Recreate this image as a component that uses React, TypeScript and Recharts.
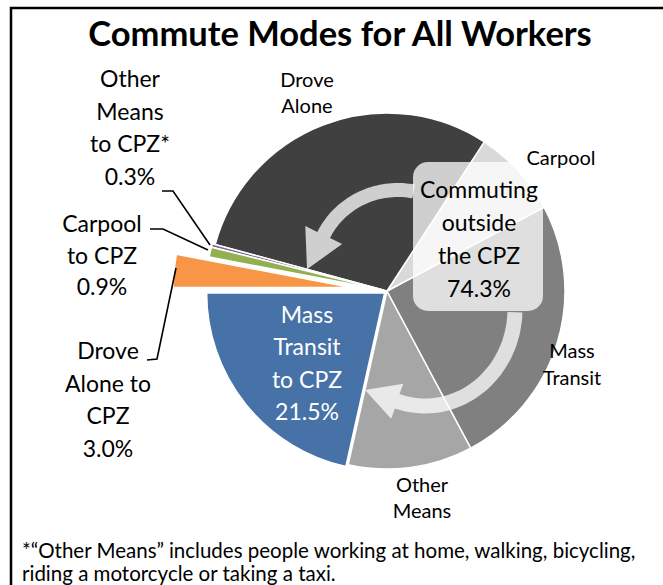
import { PieChart, Pie, Cell } from 'recharts';

// shares of all workers, in drawing order starting at 9 o'clock going counter-clockwise
const CATEGORIES = [
  'Mass Transit to CPZ',
  'Other Means',
  'Mass Transit',
  'Carpool',
  'Drove Alone',
  'Other Means to CPZ',
  'Carpool to CPZ',
  'Drove Alone to CPZ',
];
const SHARES = [21.5, 11.3, 25.0, 8.0, 30.0, 0.3, 0.9, 3.0];
const COLORS = ['#4672A8', '#A6A6A6', '#808080', '#D9D9D9', '#404040', '#8064A2', '#92B050', '#F79646'];
// how far each slice is pulled out of the pie (px)
const EXPLODE = [3, 0, 0, 0, 0, 3, 3, 36];

const OUTSIDE_TOTAL = '74.3%';

const W = 663;
const H = 585;
const CX = 387;
const CY = 291;
const R = 178;
const START = 180;
const END = 540;

const FONT = "Lato, 'Open Sans', sans-serif";

const data = CATEGORIES.map((name, i) => ({ name, value: SHARES[i] }));

const total = SHARES.reduce((a, b) => a + b, 0);
const midAngle = (i: number) => {
  const before = SHARES.slice(0, i).reduce((a, b) => a + b, 0);
  return START + ((before + SHARES[i] / 2) / total) * (END - START);
};
const offsetOf = (i: number) => {
  const a = (midAngle(i) * Math.PI) / 180;
  return { dx: EXPLODE[i] * Math.cos(a), dy: -EXPLODE[i] * Math.sin(a) };
};

// curved arrow along an ellipse, t in screen degrees (y down)
function arcArrow(
  cx: number, cy: number, rx: number, ry: number,
  t0: number, t1: number, band: number, headW: number, headL: number,
) {
  const steps = 40;
  const dir = Math.sign(t1 - t0);
  const pt = (t: number, d: number) => {
    const r = (t * Math.PI) / 180;
    return [cx + (rx + d) * Math.cos(r), cy + (ry + d) * Math.sin(r)];
  };
  const outer: number[][] = [];
  const inner: number[][] = [];
  for (let k = 0; k <= steps; k++) {
    const t = t0 + ((t1 - t0) * k) / steps;
    outer.push(pt(t, band / 2));
    inner.push(pt(t, -band / 2));
  }
  const r1 = (t1 * Math.PI) / 180;
  const P = pt(t1, 0);
  let tx = -rx * Math.sin(r1) * dir;
  let ty = ry * Math.cos(r1) * dir;
  const len = Math.hypot(tx, ty);
  tx /= len;
  ty /= len;
  // normal pointing outward
  let nx = -ty;
  let ny = tx;
  if (nx * (P[0] - cx) + ny * (P[1] - cy) < 0) {
    nx = -nx;
    ny = -ny;
  }
  const wingOut = [P[0] + nx * headW / 2, P[1] + ny * headW / 2];
  const wingIn = [P[0] - nx * headW / 2, P[1] - ny * headW / 2];
  const tip = [P[0] + tx * headL, P[1] + ty * headL];
  const pts = [...outer, wingOut, tip, wingIn, ...inner.reverse()];
  return 'M' + pts.map((p) => `${p[0].toFixed(1)},${p[1].toFixed(1)}`).join('L') + 'Z';
}

type Label = { lines: string[]; x: number; y: number; gap: number; size: number; color?: string };

const LABELS: Label[] = [
  { lines: ['Other', 'Means', 'to CPZ*', '0.3%'], x: 130, y: 87, gap: 32.7, size: 23 },
  { lines: ['Carpool', 'to CPZ', '0.9%'], x: 102, y: 232, gap: 31.5, size: 23 },
  { lines: ['Drove', 'Alone to', 'CPZ', '3.0%'], x: 108, y: 359, gap: 32.7, size: 23 },
  { lines: ['Mass', 'Transit', 'to CPZ', '21.5%'], x: 307, y: 323, gap: 32.3, size: 23, color: '#fff' },
  { lines: ['Commuting', 'outside', 'the CPZ', OUTSIDE_TOTAL], x: 479, y: 198, gap: 33, size: 23 },
  { lines: ['Drove', 'Alone'], x: 307, y: 87, gap: 26, size: 20 },
  { lines: ['Carpool'], x: 561, y: 165, gap: 26, size: 20 },
  { lines: ['Mass', 'Transit'], x: 572, y: 358, gap: 27, size: 20 },
  { lines: ['Other', 'Means'], x: 422, y: 492, gap: 25.5, size: 20 },
];

const LEADERS = [
  [[162, 191], [173, 191], [210, 245]],
  [[150, 229], [163, 229], [208, 250]],
  [[147, 360], [157, 359], [176, 268]],
];

function App() {
  const exploded = EXPLODE.map((e, i) => (e > 0 ? i : -1)).filter((i) => i >= 0);
  return (
    <div style={{ position: 'absolute', left: 0, top: 0, width: W, height: H, background: '#fff', overflow: 'hidden' }}>
      <PieChart width={W} height={H} margin={{ top: 0, right: 0, bottom: 0, left: 0 }}>
        <Pie
          data={data}
          dataKey="value"
          nameKey="name"
          cx={CX}
          cy={CY}
          outerRadius={R}
          startAngle={START}
          endAngle={END}
          stroke="#fff"
          strokeWidth={1.5}
          isAnimationActive={false}
        >
          {data.map((d, i) => (
            <Cell
              key={`main-${d.name}`}
              fill={EXPLODE[i] > 0 ? 'none' : COLORS[i]}
              stroke={EXPLODE[i] > 0 ? 'none' : '#fff'}
            />
          ))}
        </Pie>
        {exploded.map((j) => {
          const { dx, dy } = offsetOf(j);
          return (
            <Pie
              key={`ex-${j}`}
              data={data}
              dataKey="value"
              nameKey="name"
              cx={CX + dx}
              cy={CY + dy}
              outerRadius={R}
              startAngle={START}
              endAngle={END}
              strokeWidth={1.5}
              isAnimationActive={false}
            >
              {data.map((d, i) => (
                <Cell
                  key={`ex-${j}-${d.name}`}
                  fill={i === j ? COLORS[i] : 'none'}
                  stroke={i === j ? '#fff' : 'none'}
                />
              ))}
            </Pie>
          );
        })}
      </PieChart>
      <svg width={W} height={H} style={{ position: 'absolute', left: 0, top: 0, pointerEvents: 'none' }}>
        {/* frame */}
        <rect x={11} y={8} width={700} height={700} fill="none" stroke="#000" strokeWidth={2.5} />
        <text x={340} y={46} textAnchor="middle" fontFamily={FONT} fontWeight={700} fontSize={34.5} fill="#000">
          Commute Modes for All Workers
        </text>
        {/* circular arrows */}
        <path d={arcArrow(398, 268, 82, 78, 281, 205, 14, 41, 38)} fill="#fff" fillOpacity={0.75} />
        <path d={arcArrow(425, 309, 90, 97, 2, 108, 15, 37, 34)} fill="#fff" fillOpacity={0.75} />
        <rect x={413} y={162} width={130} height={149} rx={15} fill="#fff" fillOpacity={0.75} />
        {LEADERS.map((pts, i) => (
          <polyline
            key={`ld-${i}`}
            points={pts.map((p) => p.join(',')).join(' ')}
            fill="none"
            stroke="#000"
            strokeWidth={1.6}
          />
        ))}
        {LABELS.map((l, i) => (
          <g key={`lb-${i}`}>
            {l.lines.map((s, k) => (
              <text
                key={k}
                x={l.x}
                y={l.y + k * l.gap}
                textAnchor="middle"
                fontFamily={FONT}
                fontSize={l.size}
                fill={l.color || '#000'}
              >
                {s}
              </text>
            ))}
          </g>
        ))}
        <text x={22} y={558} fontFamily={FONT} fontSize={20.5} fill="#000">
          *“Other Means” includes people working at home, walking, bicycling,
        </text>
        <text x={22} y={581} fontFamily={FONT} fontSize={20.5} fill="#000">
          riding a motorcycle or taking a taxi.
        </text>
      </svg>
    </div>
  );
}

export default App;
